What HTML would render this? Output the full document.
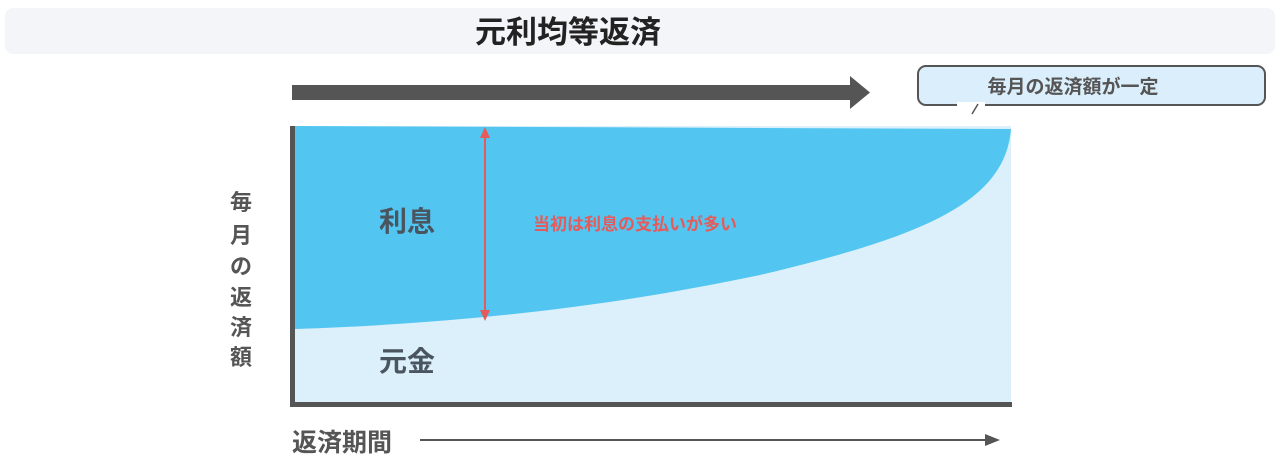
<!DOCTYPE html>
<html><head><meta charset="utf-8"><style>
body{margin:0;background:#fff;width:1280px;height:462px;overflow:hidden}
svg text{font-family:"Liberation Sans","Noto Sans CJK JP",sans-serif;font-weight:bold}
</style></head><body>
<svg width="1280" height="462" viewBox="0 0 1280 462">
<rect x="5" y="8" width="1270" height="46" rx="8" fill="#f4f5f9"/>
<text x="568" y="43" font-size="31" fill="#222" text-anchor="middle">元利均等返済</text>
<rect x="292" y="85" width="560" height="15" fill="#555"/>
<polygon points="850,76 870,92.5 850,109" fill="#555"/>
<rect x="918" y="66" width="347" height="39" rx="8" fill="#dbeefb" stroke="#555" stroke-width="2"/>
<rect x="957" y="102" width="28" height="6" fill="#fff"/>
<line x1="972" y1="114" x2="978" y2="104" stroke="#555" stroke-width="1.5"/>
<text x="1073" y="93" font-size="19" fill="#555" text-anchor="middle">毎月の返済額が一定</text>
<rect x="295" y="126" width="716" height="278" fill="#dcf0fc"/>
<path d="M295,126 L1011,129 C1005,200 930,235 760,275 C640,300 500,322 295,329 Z" fill="#52c6f0"/>
<rect x="290" y="126" width="5" height="281" fill="#555"/>
<rect x="290" y="402" width="722" height="5" fill="#555"/>
<line x1="485" y1="136" x2="485" y2="312" stroke="#e55a5a" stroke-width="2"/>
<polygon points="480,138 485,127 490,138" fill="#e55a5a"/>
<polygon points="480,310 485,321 490,310" fill="#e55a5a"/>
<text x="407" y="231" font-size="28" fill="#4a5560" text-anchor="middle">利息</text>
<text x="533" y="230" font-size="17" fill="#e55a5a">当初は利息の支払いが多い</text>
<text x="407" y="371" font-size="28" fill="#4a5560" text-anchor="middle">元金</text>
<g font-size="22" fill="#555" text-anchor="middle">
<text x="241" y="210">毎</text><text x="241" y="243">月</text><text x="241" y="274">の</text>
<text x="241" y="305">返</text><text x="241" y="335">済</text><text x="241" y="365">額</text>
</g>
<text x="292" y="451" font-size="25" fill="#555">返済期間</text>
<line x1="420" y1="440" x2="990" y2="440" stroke="#555" stroke-width="2"/>
<polygon points="985,434 1000,440 985,446" fill="#555"/>
</svg>
</body></html>
